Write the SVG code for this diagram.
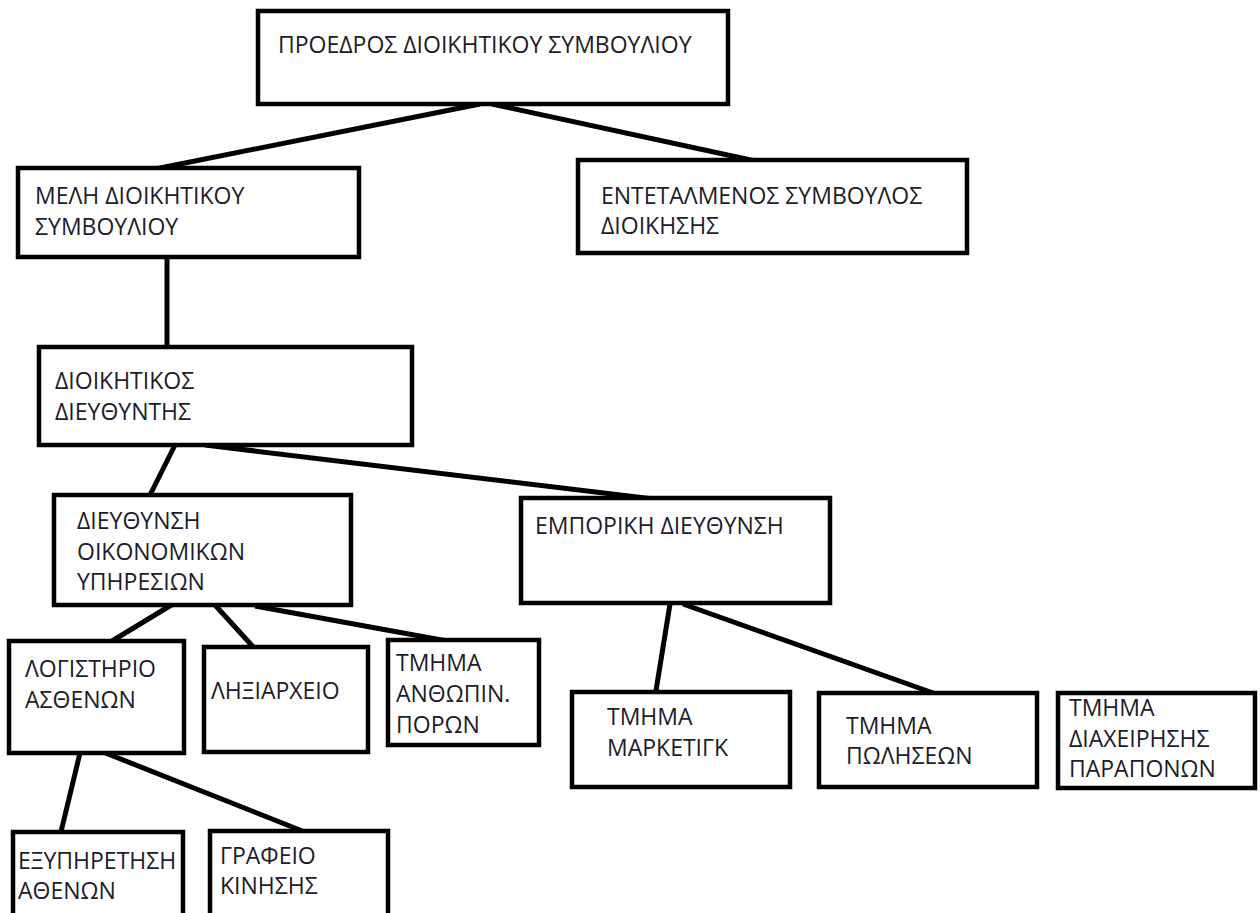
<svg xmlns="http://www.w3.org/2000/svg" width="1260" height="913" viewBox="0 0 1260 913">
<style>
.box{fill:#fff;stroke:#000;stroke-width:4.5}
.t{font-family:"Open Sans","Noto Sans","DejaVu Sans",sans-serif;font-size:23px;fill:#1c1c2a}
.c{stroke:#000;stroke-width:5;fill:none;stroke-linecap:butt}
</style>
<rect width="1260" height="913" fill="#fff"/>
<g id="connectors">
<line class="c" x1="480" y1="104" x2="145" y2="171"/>
<line class="c" x1="492" y1="104" x2="760" y2="162"/>
<line class="c" x1="167" y1="257" x2="167" y2="350"/>
<line class="c" x1="175" y1="445" x2="150" y2="495"/>
<line class="c" x1="205" y1="445" x2="662" y2="500"/>
<line class="c" x1="173" y1="604" x2="112" y2="641"/>
<line class="c" x1="215" y1="605" x2="256" y2="650"/>
<line class="c" x1="255" y1="606" x2="447" y2="641"/>
<line class="c" x1="670" y1="604" x2="654" y2="703"/>
<line class="c" x1="683" y1="604" x2="950" y2="699"/>
<line class="c" x1="80" y1="753" x2="60" y2="836"/>
<line class="c" x1="103" y1="752" x2="315" y2="836"/>
</g>
<g id="n1"><rect class="box" x="258" y="11" width="470" height="93"/><text class="t" x="278" y="53">ΠΡΟΕΔΡΟΣ ΔΙΟΙΚΗΤΙΚΟΥ ΣΥΜΒΟΥΛΙΟΥ</text></g>
<g id="n2"><rect class="box" x="18" y="168" width="341" height="89"/><text class="t" x="35" y="204">ΜΕΛΗ ΔΙΟΙΚΗΤΙΚΟΥ</text><text class="t" x="35" y="235">ΣΥΜΒΟΥΛΙΟΥ</text></g>
<g id="n3"><rect class="box" x="39" y="347" width="373" height="98"/><text class="t" x="55" y="389">ΔΙΟΙΚΗΤΙΚΟΣ</text><text class="t" x="55" y="420">ΔΙΕΥΘΥΝΤΗΣ</text></g>
<g id="n4"><rect class="box" x="578" y="160" width="389" height="93"/><text class="t" x="601" y="204">ΕΝΤΕΤΑΛΜΕΝΟΣ ΣΥΜΒΟΥΛΟΣ</text><text class="t" x="601" y="234">ΔΙΟΙΚΗΣΗΣ</text></g>
<g id="n5"><rect class="box" x="54" y="495" width="297" height="110"/><text class="t" x="77" y="529">ΔΙΕΥΘΥΝΣΗ</text><text class="t" x="77" y="560">ΟΙΚΟΝΟΜΙΚΩΝ</text><text class="t" x="77" y="590">ΥΠΗΡΕΣΙΩΝ</text></g>
<g id="n6"><rect class="box" x="9" y="641" width="175" height="112"/><text class="t" x="25" y="677">ΛΟΓΙΣΤΗΡΙΟ</text><text class="t" x="25" y="708">ΑΣΘΕΝΩΝ</text></g>
<g id="n7"><rect class="box" x="204" y="647" width="164" height="105"/><text class="t" x="211" y="699">ΛΗΞΙΑΡΧΕΙΟ</text></g>
<g id="n8"><rect class="box" x="388" y="640" width="151" height="105"/><text class="t" x="396" y="671">ΤΜΗΜΑ</text><text class="t" x="396" y="702">ΑΝΘΩΠΙΝ.</text><text class="t" x="396" y="733">ΠΟΡΩΝ</text></g>
<g id="n9"><rect class="box" x="521" y="498" width="309" height="105"/><text class="t" x="535" y="534">ΕΜΠΟΡΙΚΗ ΔΙΕΥΘΥΝΣΗ</text></g>
<g id="n10"><rect class="box" x="572" y="692" width="218" height="95"/><text class="t" x="607" y="725">ΤΜΗΜΑ</text><text class="t" x="607" y="756">ΜΑΡΚΕΤΙΓΚ</text></g>
<g id="n11"><rect class="box" x="819" y="693" width="218" height="94"/><text class="t" x="846" y="734">ΤΜΗΜΑ</text><text class="t" x="846" y="764">ΠΩΛΗΣΕΩΝ</text></g>
<g id="n12"><rect class="box" x="1058" y="693" width="197" height="95"/><text class="t" x="1069" y="716">ΤΜΗΜΑ</text><text class="t" x="1069" y="747">ΔΙΑΧΕΙΡΗΣΗΣ</text><text class="t" x="1069" y="777">ΠΑΡΑΠΟΝΩΝ</text></g>
<g id="n13"><rect class="box" x="13" y="832" width="170" height="90"/><text class="t" x="18" y="869">ΕΞΥΠΗΡΕΤΗΣΗ</text><text class="t" x="18" y="899">ΑΘΕΝΩΝ</text></g>
<g id="n14"><rect class="box" x="210" y="831" width="178" height="91"/><text class="t" x="220" y="864">ΓΡΑΦΕΙΟ</text><text class="t" x="220" y="894">ΚΙΝΗΣΗΣ</text></g>
</svg>
